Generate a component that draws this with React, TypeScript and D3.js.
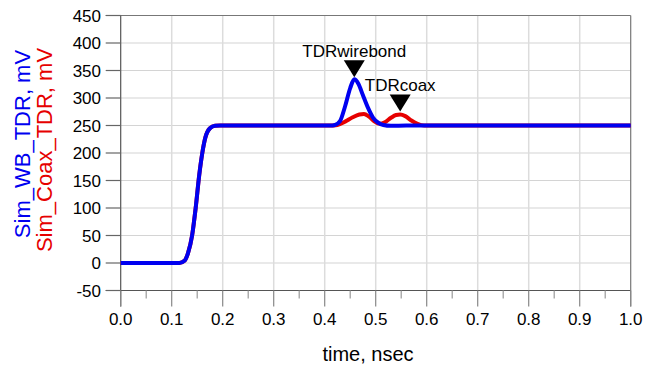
import React from 'react';
import * as d3 from 'd3';

// time (nsec) and mV values
const wbTime = [0, 0.1, 0.115, 0.125, 0.132, 0.14, 0.147, 0.154, 0.16, 0.166, 0.175, 0.185, 0.195, 0.21, 0.4, 0.41, 0.42, 0.43, 0.44, 0.45, 0.458, 0.466, 0.475, 0.485, 0.495, 0.505, 0.515, 0.53, 0.56, 1.0];
const wbValue = [0, 0, 0, 4, 18, 50, 100, 160, 200, 228, 245, 249.5, 250, 250, 250, 250, 251, 258, 285, 318, 334, 326, 305, 282, 264, 255, 251, 249.5, 250, 250];

const coaxTime = [0, 0.1, 0.115, 0.125, 0.132, 0.14, 0.147, 0.154, 0.16, 0.166, 0.175, 0.185, 0.195, 0.21, 0.41, 0.425, 0.44, 0.455, 0.468, 0.477, 0.487, 0.498, 0.508, 0.518, 0.53, 0.54, 0.548, 0.558, 0.57, 0.582, 0.595, 1.0];
const coaxValue = [0, 0, 0, 4, 18, 50, 100, 160, 200, 228, 245, 249.5, 250, 250, 250, 251, 257, 265, 270, 271, 266, 257, 253, 256, 264, 269, 270, 267, 259, 253, 250, 250];

const markerNames = ['TDRwirebond', 'TDRcoax'];
const markerTime = [0.458, 0.548];
const markerValue = [334, 272];

const yTicks = [-50, 0, 50, 100, 150, 200, 250, 300, 350, 400, 450];
const xTicks = [0, 0.1, 0.2, 0.3, 0.4, 0.5, 0.6, 0.7, 0.8, 0.9, 1.0];
const xMinorTicks = [0.05, 0.15, 0.25, 0.35, 0.45, 0.55, 0.65, 0.75, 0.85, 0.95];

const W = 658;
const H = 375;
const font = 'Arial, "Liberation Sans", sans-serif';

export default function App() {
  const x = d3.scaleLinear().domain([0, 1]).range([120.7, 630.7]);
  const y = d3.scaleLinear().domain([-50, 450]).range([290.5, 15.5]);
  const left = x(0), right = x(1), top = y(450), bottom = y(-50);

  const line = d3.line<[number, number]>()
    .x(d => x(d[0]))
    .y(d => y(d[1]))
    .curve(d3.curveMonotoneX);

  const wb = wbTime.map((t, i) => [t, wbValue[i]] as [number, number]);
  const coax = coaxTime.map((t, i) => [t, coaxValue[i]] as [number, number]);

  return (
    <svg width={W} height={H} style={{ position: 'absolute', left: 0, top: 0, background: '#fff' }} fontFamily={font}>
      {/* grid */}
      {yTicks.filter(v => v > -50 && v < 450).map(v => (
        <line key={'gy' + v} x1={left} x2={right} y1={y(v)} y2={y(v)} stroke="#d4d4d4" strokeWidth={1.2} />
      ))}
      {xTicks.filter(v => v > 0 && v < 1).map(v => (
        <line key={'gx' + v} x1={x(v)} x2={x(v)} y1={top} y2={bottom} stroke="#dcdcdc" strokeWidth={1.5} />
      ))}

      {/* frame and axes */}
      <line x1={left - 15} x2={right} y1={top} y2={top} stroke="#777" strokeWidth={1.2} />
      <line x1={left - 15} x2={right} y1={bottom} y2={bottom} stroke="#555" strokeWidth={1.2} />
      <line x1={left} x2={left} y1={top} y2={bottom + 16} stroke="#555" strokeWidth={1.2} />
      <line x1={right} x2={right} y1={top} y2={bottom + 16} stroke="#777" strokeWidth={1.2} />

      {/* y ticks */}
      {yTicks.map(v => (
        <g key={'ty' + v}>
          <line x1={left - 15} x2={left} y1={y(v)} y2={y(v)} stroke="#666" strokeWidth={1.2} />
          <text x={101} y={y(v)} dy="0.36em" textAnchor="end" fontSize={17} fill="#000">{v}</text>
        </g>
      ))}

      {/* x ticks */}
      {xTicks.map(v => (
        <g key={'tx' + v}>
          <line x1={x(v)} x2={x(v)} y1={bottom} y2={bottom + 16} stroke="#888" strokeWidth={1.2} />
          <text x={x(v)} y={325} textAnchor="middle" fontSize={17} fill="#000">{v.toFixed(1)}</text>
        </g>
      ))}
      {xMinorTicks.map(v => (
        <line key={'mx' + v} x1={x(v)} x2={x(v)} y1={bottom} y2={bottom + 8} stroke="#999" strokeWidth={1.2} />
      ))}

      {/* curves */}
      <path d={line(coax) || ''} fill="none" stroke="#e60000" strokeWidth={4} strokeLinejoin="round" />
      <path d={line(wb) || ''} fill="none" stroke="#0000f0" strokeWidth={4} strokeLinejoin="round" />

      {/* markers */}
      {markerNames.map((name, i) => {
        const mx = x(markerTime[i]);
        const tip = y(markerValue[i]) - 2;
        return (
          <g key={name}>
            <path d={`M${mx - 10.5},${tip - 17} L${mx + 10.5},${tip - 17} L${mx},${tip} Z`} fill="#000" />
            <text x={mx} y={tip - 20} textAnchor="middle" fontSize={17} fill="#000">{name}</text>
          </g>
        );
      })}

      {/* axis titles */}
      <text transform={`translate(30,144) rotate(-90)`} textAnchor="middle" fontSize={22} fill="#0000f0">Sim_WB_TDR, mV</text>
      <text transform={`translate(52,150) rotate(-90)`} textAnchor="middle" fontSize={22} fill="#e60000">Sim_Coax_TDR, mV</text>
      <text x={368} y={361} textAnchor="middle" fontSize={20} fill="#000">time, nsec</text>
    </svg>
  );
}
